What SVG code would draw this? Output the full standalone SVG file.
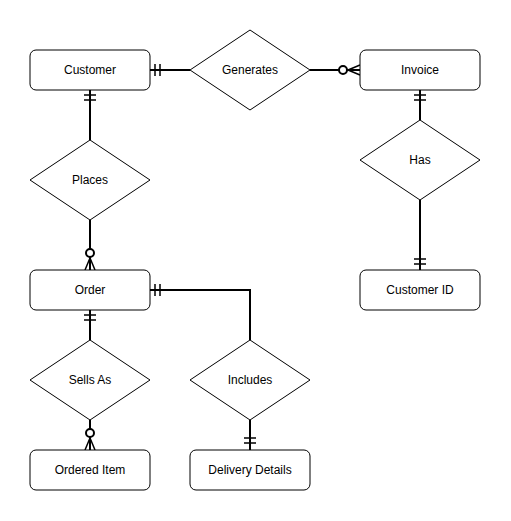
<svg xmlns="http://www.w3.org/2000/svg" width="511" height="521" viewBox="0 0 511 521">
<style>
.ent{fill:#fff;stroke:#000;stroke-width:1}
.rel{fill:#fff;stroke:#000;stroke-width:1}
.lbl{font-family:"Liberation Sans",Arial,sans-serif;font-size:12px;fill:#000;text-anchor:middle;dominant-baseline:central}
.cn{fill:none;stroke:#000;stroke-width:2}
.mk{fill:none;stroke:#000;stroke-width:1.5}
.circ{fill:#fff;stroke:#000;stroke-width:2}
</style>
<rect width="511" height="521" fill="#fff"/>
<g id="connectors">
  <!-- Customer - Generates -->
  <path class="cn" d="M150,70 H190"/>
  <path class="mk" d="M155,64 V76 M160,64 V76"/>
  <!-- Generates - Invoice -->
  <path class="cn" d="M310,70 H360"/>
  <path class="mk" d="M348,70 L360,65 M348,70 L360,70 M348,70 L360,75"/>
  <circle class="circ" cx="343" cy="70" r="4"/>
  <!-- Customer - Places -->
  <path class="cn" d="M90,90 V140"/>
  <path class="mk" d="M84,95 H96 M84,100 H96"/>
  <!-- Places - Order -->
  <path class="cn" d="M90,220 V270"/>
  <path class="mk" d="M90,258 L85,270 M90,258 L90,270 M90,258 L95,270"/>
  <circle class="circ" cx="90" cy="253" r="4"/>
  <!-- Invoice - Has -->
  <path class="cn" d="M420,90 V120"/>
  <path class="mk" d="M414,95 H426 M414,100 H426"/>
  <!-- Has - Customer ID -->
  <path class="cn" d="M420,200 V270"/>
  <path class="mk" d="M414,259 H426 M414,264 H426"/>
  <!-- Order - Includes -->
  <path class="cn" d="M150,290 H250 V340"/>
  <path class="mk" d="M155,284 V296 M160,284 V296"/>
  <!-- Includes - Delivery Details -->
  <path class="cn" d="M250,420 V450"/>
  <path class="mk" d="M244,438 H256 M244,443 H256"/>
  <!-- Order - Sells As -->
  <path class="cn" d="M90,310 V340"/>
  <path class="mk" d="M84,315 H96 M84,320 H96"/>
  <!-- Sells As - Ordered Item -->
  <path class="cn" d="M90,420 V450"/>
  <path class="mk" d="M90,438 L85,450 M90,438 L90,450 M90,438 L95,450"/>
  <circle class="circ" cx="90" cy="433" r="4"/>
</g>
<g id="customer"><rect class="ent" x="30" y="50" width="120" height="40" rx="6"/><text class="lbl" x="90" y="70">Customer</text></g>
<g id="generates"><polygon class="rel" points="250,30 310,70 250,110 190,70"/><text class="lbl" x="250" y="70">Generates</text></g>
<g id="invoice"><rect class="ent" x="360" y="50" width="120" height="40" rx="6"/><text class="lbl" x="420" y="70">Invoice</text></g>
<g id="places"><polygon class="rel" points="90,140 150,180 90,220 30,180"/><text class="lbl" x="90" y="180">Places</text></g>
<g id="has"><polygon class="rel" points="420,120 480,160 420,200 360,160"/><text class="lbl" x="420" y="160">Has</text></g>
<g id="order"><rect class="ent" x="30" y="270" width="120" height="40" rx="6"/><text class="lbl" x="90" y="290">Order</text></g>
<g id="customer-id"><rect class="ent" x="360" y="270" width="120" height="40" rx="6"/><text class="lbl" x="420" y="290">Customer ID</text></g>
<g id="sells-as"><polygon class="rel" points="90,340 150,380 90,420 30,380"/><text class="lbl" x="90" y="380">Sells As</text></g>
<g id="includes"><polygon class="rel" points="250,340 310,380 250,420 190,380"/><text class="lbl" x="250" y="380">Includes</text></g>
<g id="ordered-item"><rect class="ent" x="30" y="450" width="120" height="40" rx="6"/><text class="lbl" x="90" y="470">Ordered Item</text></g>
<g id="delivery-details"><rect class="ent" x="190" y="450" width="120" height="40" rx="6"/><text class="lbl" x="250" y="470">Delivery Details</text></g>
</svg>
